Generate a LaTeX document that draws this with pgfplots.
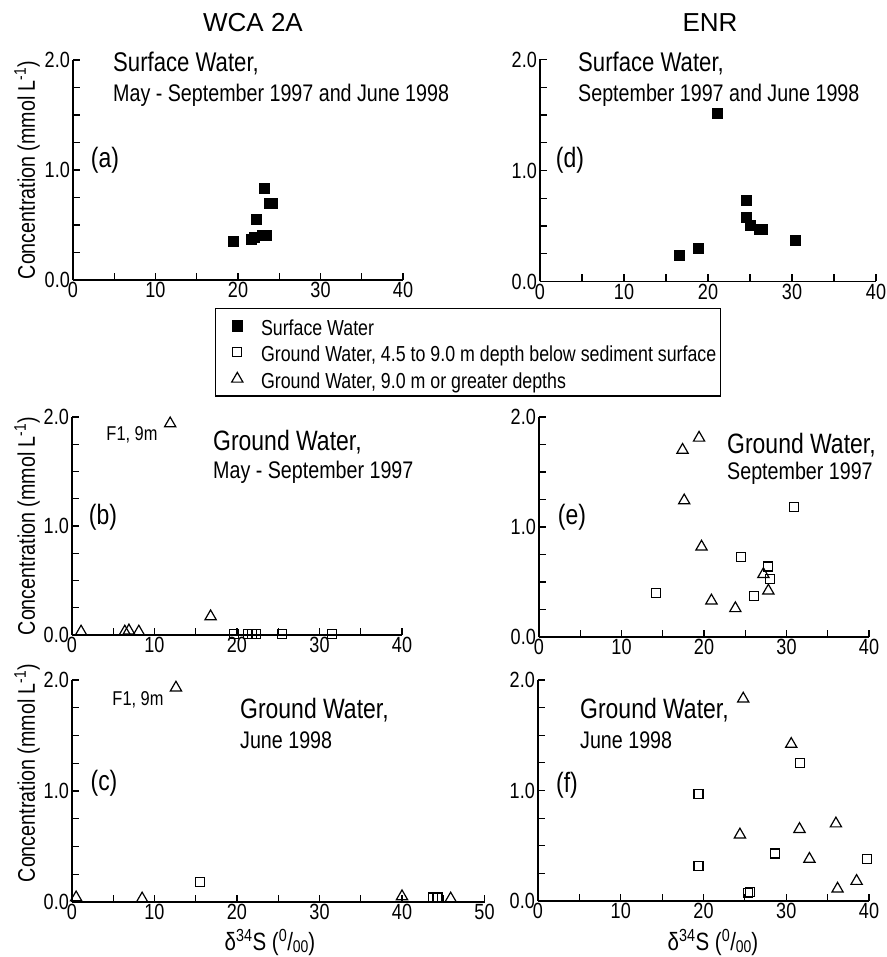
\documentclass[border=0pt]{standalone}
\usepackage{pgfplots}
\pgfplotsset{compat=1.18}
\usepackage{fontspec}
\setmainfont{Liberation Sans}[FakeStretch=0.82]
\newfontfamily\widefont{Liberation Sans}
\newcommand\fs[1]{\fontsize{#1}{#1}\selectfont}
\pgfplotsset{
  panel/.style={
    scale only axis, anchor=south west,
    axis x line=bottom, axis y line=left,
    axis line style={-, line width=1.4pt},
    xmin=0, xmax=40, ymin=0, ymax=2,
    xtick={0,10,20,30,40}, xticklabels={0,10,20,30,40},
    minor xtick={5,15,25,35},
    ytick={0,1,2}, yticklabels={0.0,1.0,2.0},
    minor ytick={0.25,0.5,0.75,1.25,1.5,1.75},
    tick align=inside, major tick length=7pt, minor tick length=7pt,
    every tick/.style={black, line width=1.2pt},
    xticklabel style={font=\fs{22}, inner sep=2pt},
    yticklabel style={font=\fs{22}, inner sep=3pt},
    clip=false,
  },
  legimg/.style={legend image code/.code={\path (0pt,0pt) (40pt,0pt); \draw[##1] plot coordinates {(18pt,0pt)};}},
  fsq/.style={only marks, mark=square*, mark size=5pt, black, legimg},
  osq/.style={only marks, mark=square, mark size=4.5pt, black, mark options={line width=1.2pt}, legimg},
  otri/.style={only marks, mark=triangle, mark size=6.5pt, black, mark options={line width=1.2pt}, legimg},
}
\begin{document}
\begin{tikzpicture}[x=1pt,y=1pt]
% (a)
\begin{axis}[panel, at={(73pt,677pt)}, width=330pt, height=220pt,
  legend style={at={(0.43,-0.127)}, anchor=north west, draw=black, line width=1.4pt,
    font=\fs{21.7}, legend cell align=left, inner xsep=3pt, inner ysep=4pt, row sep=0pt,
    nodes={inner ysep=2.5pt, inner xsep=1pt, text height=20pt, text depth=1.5pt}}]
\addplot[fsq] coordinates {(19.4,0.35) (21.6,0.37) (22.0,0.39) (22.2,0.555) (22.9,0.41) (23.4,0.41) (23.2,0.83) (23.8,0.70) (24.2,0.70)};
\addlegendentry{Surface Water}
\addlegendimage{osq}
\addlegendentry{Ground Water, 4.5 to 9.0 m depth below sediment surface}
\addlegendimage{otri}
\addlegendentry{Ground Water, 9.0 m or greater depths}
\end{axis}
% (d)
\begin{axis}[panel, at={(540pt,675.5pt)}, width=336pt, height=222pt]
\addplot[fsq] coordinates {(16.6,0.24) (18.8,0.30) (21.1,1.52) (24.5,0.73) (24.6,0.58) (25.0,0.51) (26.1,0.47) (26.5,0.47) (30.4,0.37)};
\end{axis}
% (b)
\begin{axis}[panel, at={(72pt,322pt)}, width=330pt, height=218pt]
\addplot[otri] coordinates {(1.1,0.03) (6.4,0.03) (6.9,0.04) (8.1,0.03) (16.8,0.17) (11.9,1.94)};
\addplot[osq] coordinates {(19.6,0.01) (21.3,0.01) (21.8,0.01) (22.3,0.01) (25.5,0.01) (31.5,0.01)};
\end{axis}
% (e)
\begin{axis}[panel, at={(539pt,320pt)}, width=330pt, height=220pt]
\addplot[otri] coordinates {(17.4,1.70) (19.4,1.81) (17.6,1.24) (19.7,0.82) (20.9,0.33) (23.8,0.26) (27.2,0.57) (27.8,0.42)};
\addplot[osq] coordinates {(14.2,0.40) (24.5,0.73) (26.1,0.37) (27.8,0.64) (28.0,0.53) (30.9,1.18)};
\end{axis}
% (c)
\begin{axis}[panel, at={(72pt,55pt)}, width=412.5pt, height=222pt, xmax=50,
  xtick={0,10,20,30,40,50}, xticklabels={0,10,20,30,40,50}, minor xtick={5,15,25,35,45}]
\addplot[otri] coordinates {(0.5,0.04) (8.5,0.03) (40.0,0.05) (45.9,0.03) (12.6,1.93)};
\addplot[osq] coordinates {(15.5,0.18) (43.8,0.04) (44.3,0.04)};
\end{axis}
% (f)
\begin{axis}[panel, at={(538pt,56pt)}, width=331pt, height=221pt]
\addplot[otri] coordinates {(24.8,1.83) (30.6,1.42) (24.4,0.60) (31.6,0.65) (36.0,0.70) (32.8,0.38) (36.2,0.11) (38.5,0.18)};
\addplot[osq] coordinates {(31.7,1.25) (19.4,0.97) (19.4,0.32) (28.6,0.43) (39.8,0.38) (25.4,0.07) (25.6,0.08)};
\end{axis}
% column titles
\node[font=\widefont\fs{26}] at (253,934) {WCA 2A};
\node[font=\widefont\fs{26}] at (710,934) {ENR};
% panel titles
\node[anchor=west, font=\fs{27}, inner sep=0pt] at (113,894) {Surface Water,};
\node[anchor=west, font=\fs{24}, inner sep=0pt] at (113,862) {May - September 1997 and June 1998};
\node[anchor=west, font=\fs{27}, inner sep=0pt] at (578,894) {Surface Water,};
\node[anchor=west, font=\fs{24}, inner sep=0pt] at (578,862) {September 1997 and June 1998};
\node[anchor=west, font=\fs{28}, inner sep=0pt] at (213,515) {Ground Water,};
\node[anchor=west, font=\fs{24}, inner sep=0pt] at (213,485) {May - September 1997};
\node[anchor=west, font=\fs{28}, inner sep=0pt] at (727,512) {Ground Water,};
\node[anchor=west, font=\fs{24}, inner sep=0pt] at (727,484) {September 1997};
\node[anchor=west, font=\fs{28}, inner sep=0pt] at (240,247) {Ground Water,};
\node[anchor=west, font=\fs{24}, inner sep=0pt] at (240,217) {June 1998};
\node[anchor=west, font=\fs{28}, inner sep=0pt] at (580,247) {Ground Water,};
\node[anchor=west, font=\fs{24}, inner sep=0pt] at (580,217) {June 1998};
% panel letters
\node[font=\fs{28}] at (105,797) {(a)};
\node[font=\fs{28}] at (570,797) {(d)};
\node[font=\fs{28}] at (103,440) {(b)};
\node[font=\fs{28}] at (572,440) {(e)};
\node[font=\fs{28}] at (104,174) {(c)};
\node[font=\fs{28}] at (567,172) {(f)};
% F1 labels
\node[font=\fs{20}] at (132,522) {F1, 9m};
\node[font=\fs{20}] at (138,257) {F1, 9m};
% y labels
\node[rotate=90, font=\fs{24}] at (27,787) {Concentration (mmol L\textsuperscript{-1})};
\node[rotate=90, font=\fs{24}] at (27,431) {Concentration (mmol L\textsuperscript{-1})};
\node[rotate=90, font=\fs{24}] at (27,184) {Concentration (mmol L\textsuperscript{-1})};
% x labels
\node[font=\fs{25}] at (270,15) {δ\textsuperscript{34}S (\textsuperscript{0}/\raisebox{-2pt}{\fs{17}00})};
\node[font=\fs{25}] at (713,15) {δ\textsuperscript{34}S (\textsuperscript{0}/\raisebox{-2pt}{\fs{17}00})};
\pgfresetboundingbox
\path (0,0) rectangle (886,957);
\end{tikzpicture}
\end{document}
